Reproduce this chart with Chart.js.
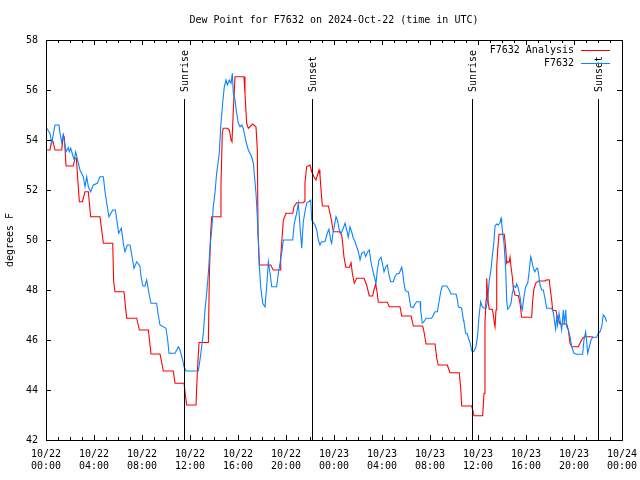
<!DOCTYPE html>
<html>
<head>
<meta charset="utf-8">
<script src="https://cdn.jsdelivr.net/npm/chart.js@4.4.1/dist/chart.umd.min.js"></script>
<style>
  html, body { margin: 0; padding: 0; background: #fff; }
</style>
</head>
<body>
<canvas id="dew" width="640" height="480"></canvas>
<script>
const MONO = '"DejaVu Sans Mono", "Liberation Mono", monospace';

const chartTitle = 'Dew Point for F7632 on 2024-Oct-22 (time in UTC)';
const yTitle = 'degrees F';

// x axis is hours since 10/22 00:00 UTC
const tickDates = ['10/22', '10/22', '10/22', '10/22', '10/22', '10/22',
  '10/23', '10/23', '10/23', '10/23', '10/23', '10/23', '10/24'];
const tickTimes = ['00:00', '04:00', '08:00', '12:00', '16:00', '20:00',
  '00:00', '04:00', '08:00', '12:00', '16:00', '20:00', '00:00'];

const sunriseHours = [11.53, 35.47];
const sunsetHours = [22.14, 46.03];

// F7632 Analysis (red)
const analysisHours = [
  0.06, 0.33, 0.48, 0.58, 0.75, 1.31, 1.44, 1.53, 1.67, 2.27,
  2.42, 2.53, 2.64, 2.78, 3.03, 3.25, 3.53, 3.72, 4.5, 4.78,
  5.56, 5.64, 5.75, 6.5, 6.72, 7.56, 7.78, 8.53, 8.75, 9.5,
  9.78, 10.61, 10.75, 11.5, 11.72, 12.5, 12.61, 12.75, 13.53, 13.61,
  13.72, 13.81, 14.5, 14.58, 14.69, 14.77, 15.11, 15.28, 15.42, 15.5,
  15.61, 15.75, 16.5, 16.58, 16.72, 16.86, 17.0, 17.22, 17.5, 17.61,
  17.67, 17.78, 18.72, 18.94, 19.5, 19.56, 19.64, 19.78, 20.0, 20.56,
  20.67, 20.89, 21.44, 21.5, 21.58, 21.72, 22.0, 22.14, 22.33, 22.5,
  22.75, 22.83, 22.92, 23.03, 23.53, 23.67, 23.81, 23.94, 24.44, 24.64,
  24.72, 24.83, 24.98, 25.28, 25.42, 25.53, 25.69, 25.89, 26.5, 26.72,
  26.94, 27.22, 27.33, 27.47, 27.61, 27.69, 28.44, 28.61, 29.5, 29.64,
  30.42, 30.61, 31.39, 31.5, 31.67, 32.42, 32.56, 32.69, 33.44, 33.67,
  34.44, 34.56, 34.64, 35.47, 35.56, 35.67, 36.39, 36.5, 36.58, 36.67,
  36.72, 36.78, 36.86, 36.94, 37.19, 37.28, 37.36, 37.42, 37.5, 37.56,
  37.64, 37.75, 38.19, 38.31, 38.39, 38.47, 38.58, 38.67, 38.75, 38.86,
  38.94, 39.08, 39.36, 39.5, 39.64, 40.47, 40.56, 40.67, 40.83, 41.03,
  41.58, 41.67, 41.94, 42.0, 42.14, 42.22, 42.5, 42.61, 42.72, 42.83,
  43.39, 43.53, 43.67, 43.81, 44.36, 44.56, 44.72, 44.86, 45.47, 45.61
];
const analysisDew = [
  53.6, 53.6, 54.0, 53.95, 53.6, 53.6, 54.2, 54.1, 52.96, 52.96,
  53.27, 53.27, 52.47, 51.53, 51.53, 51.93, 51.93, 50.93, 50.93, 49.87,
  49.87, 48.33, 47.93, 47.93, 46.87, 46.87, 46.4, 46.4, 45.44, 45.44,
  44.76, 44.76, 44.27, 44.27, 43.4, 43.4, 44.67, 45.9, 45.9, 48.53,
  50.27, 50.93, 50.93, 52.13, 54.27, 54.47, 54.47, 54.4, 54.0, 53.93,
  55.2, 56.53, 56.53, 55.87, 54.67, 54.47, 54.53, 54.64, 54.53, 53.6,
  50.27, 49.0, 49.0, 48.8, 48.8, 49.33, 49.87, 50.8, 51.07, 51.07,
  51.33, 51.49, 51.49, 51.53, 52.27, 52.93, 53.0, 52.73, 52.53, 52.4,
  52.8, 52.6, 52.0, 51.36, 51.36, 51.07, 50.73, 50.33, 50.33, 50.2,
  49.87, 49.33, 48.91, 48.91, 49.09, 48.67, 48.27, 48.47, 48.47, 48.2,
  47.76, 47.76, 48.0, 48.24, 47.87, 47.51, 47.51, 47.33, 47.33, 46.96,
  46.96, 46.56, 46.56, 46.33, 45.84, 45.84, 45.27, 45.0, 45.0, 44.69,
  44.69, 44.07, 43.36, 43.36, 43.2, 42.97, 42.97, 43.87, 46.67, 47.6,
  48.47, 48.0, 47.47, 47.23, 47.23, 47.0, 46.67, 46.53, 47.2, 48.93,
  49.6, 50.23, 50.23, 49.67, 49.07, 49.13, 49.1, 49.31, 48.93, 48.53,
  48.07, 47.8, 47.77, 47.47, 46.91, 46.91, 47.6, 48.07, 48.29, 48.36,
  48.36, 48.4, 48.41, 48.13, 47.6, 47.2, 47.17, 46.93, 46.8, 46.64,
  46.64, 46.4, 45.87, 45.73, 45.73, 45.93, 46.07, 46.13, 46.13, 46.11
];

// F7632 station obs (blue)
const stationHours = [
  0.06, 0.33, 0.48, 0.75, 1.08, 1.17, 1.31, 1.44, 1.67, 1.86,
  1.94, 2.06, 2.22, 2.36, 2.47, 2.83, 3.11, 3.25, 3.39, 3.53,
  3.72, 3.94, 4.28, 4.5, 4.78, 4.92, 5.06, 5.25, 5.56, 5.78,
  5.94, 6.06, 6.28, 6.44, 6.58, 6.78, 7.0, 7.22, 7.33, 7.56,
  7.83, 7.92, 8.08, 8.25, 8.39, 8.58, 8.75, 9.22, 9.33, 9.5,
  10.0, 10.14, 10.25, 10.75, 11.03, 11.17, 11.39, 11.5, 11.67, 12.69,
  12.83, 12.97, 13.11, 13.25, 13.39, 13.53, 13.67, 13.81, 13.94, 14.08,
  14.22, 14.44, 14.56, 14.72, 14.86, 15.0, 15.11, 15.28, 15.42, 15.53,
  15.61, 15.75, 15.89, 16.03, 16.17, 16.31, 16.44, 16.67, 16.86, 17.14,
  17.28, 17.5, 17.61, 17.72, 17.78, 17.89, 18.06, 18.25, 18.39, 18.53,
  18.67, 18.81, 19.22, 19.36, 19.5, 19.64, 19.78, 20.56, 20.69, 20.89,
  21.03, 21.17, 21.31, 21.44, 21.58, 21.72, 22.06, 22.14, 22.42, 22.56,
  22.69, 22.83, 22.97, 23.25, 23.44, 23.58, 23.72, 23.81, 23.89, 24.03,
  24.17, 24.28, 24.44, 24.58, 24.72, 24.92, 25.06, 25.19, 25.33, 25.47,
  25.61, 25.75, 25.89, 26.03, 26.17, 26.31, 26.5, 26.64, 26.81, 26.94,
  27.08, 27.22, 27.36, 27.5, 27.61, 27.75, 27.92, 28.03, 28.17, 28.31,
  28.44, 28.58, 28.72, 28.94, 29.08, 29.22, 29.44, 29.64, 29.72, 29.83,
  29.94, 30.06, 30.19, 30.28, 30.39, 30.61, 30.75, 30.89, 31.17, 31.22,
  31.36, 31.5, 31.67, 32.14, 32.28, 32.42, 32.61, 32.78, 32.89, 33.03,
  33.39, 33.61, 33.75, 34.17, 34.28, 34.36, 34.64, 34.78, 34.83, 34.97,
  35.11, 35.19, 35.33, 35.47, 35.53, 35.67, 35.83, 35.97, 36.08, 36.22,
  36.33, 36.5, 36.67, 36.81, 36.94, 37.08, 37.22, 37.33, 37.42, 37.56,
  37.69, 37.83, 37.92, 37.97, 38.06, 38.17, 38.31, 38.39, 38.47, 38.61,
  38.75, 38.86, 39.0, 39.14, 39.22, 39.36, 39.5, 39.64, 39.69, 39.83,
  39.97, 40.14, 40.25, 40.39, 40.47, 40.61, 40.75, 40.89, 40.97, 41.06,
  41.17, 41.31, 41.44, 41.58, 41.72, 42.14, 42.28, 42.36, 42.47, 42.56,
  42.64, 42.75, 42.89, 42.97, 43.11, 43.19, 43.31, 43.39, 43.53, 43.67,
  43.81, 44.0, 44.22, 44.72, 44.83, 44.97, 45.06, 45.14, 45.28, 45.42,
  45.56, 45.89, 46.03, 46.17, 46.31, 46.44, 46.58, 46.72
];
const stationDew = [
  54.47, 54.27, 53.87, 54.6, 54.6, 54.27, 53.9, 54.2, 53.53, 53.7,
  53.53, 53.67, 53.4, 53.2, 53.53, 52.8, 52.53, 52.13, 52.53, 52.13,
  51.93, 52.2, 52.27, 52.53, 52.53, 51.93, 51.47, 50.93, 51.2, 51.2,
  50.67, 50.27, 50.47, 49.87, 49.53, 49.8, 49.8, 49.2, 48.87, 49.13,
  48.95, 48.53, 48.16, 48.16, 48.4, 47.87, 47.47, 47.47, 47.07, 46.6,
  46.47, 46.0, 45.47, 45.47, 45.73, 45.6, 45.2, 44.93, 44.76, 44.76,
  45.2, 45.73, 46.27, 47.2, 47.87, 48.67, 49.73, 50.4, 51.33, 51.87,
  52.67, 53.47, 54.53, 55.47, 56.13, 56.4, 56.2, 56.4, 56.27, 56.67,
  55.87, 55.6, 55.07, 54.67, 54.53, 54.6, 54.47, 53.93, 53.6, 53.33,
  53.07, 51.87, 50.93, 49.73, 48.93, 48.13, 47.47, 47.33, 48.13, 49.13,
  48.67, 48.13, 48.13, 48.67, 49.07, 49.47, 50.0, 50.0, 50.67, 51.07,
  51.47, 50.53, 49.67, 50.73, 51.13, 51.47, 51.6, 50.8, 50.6, 50.4,
  50.0, 49.8, 49.93, 49.93, 50.27, 50.43, 50.0, 49.87, 50.2, 50.56,
  50.93, 50.8, 50.4, 50.27, 50.4, 50.67, 50.4, 50.11, 50.53, 50.33,
  50.07, 49.93, 49.73, 49.53, 49.2, 49.47, 49.53, 49.33, 49.53, 49.6,
  49.13, 48.8, 48.53, 48.27, 48.8, 49.2, 49.31, 49.07, 48.73, 48.93,
  49.0, 48.6, 48.33, 48.33, 48.53, 48.64, 48.67, 48.91, 48.73, 48.27,
  48.0, 47.93, 47.93, 47.67, 47.33, 47.3, 47.44, 47.53, 47.53, 47.2,
  46.67, 46.73, 46.87, 46.87, 47.0, 47.13, 47.13, 47.6, 47.93, 48.16,
  48.16, 48.0, 47.84, 47.84, 47.63, 47.33, 47.27, 46.8, 46.73, 46.27,
  46.24, 46.1, 45.9, 45.6, 45.53, 45.56, 45.73, 46.2, 46.93, 47.53,
  47.35, 47.27, 47.27, 47.6, 48.4, 48.8, 49.49, 49.93, 50.56, 50.64,
  50.6, 50.69, 50.87, 50.67, 50.27, 49.87, 48.8, 47.6, 47.23, 47.31,
  47.47, 47.87, 48.16, 48.1, 48.24, 48.07, 47.73, 47.27, 47.2, 47.73,
  48.13, 48.27, 48.67, 49.33, 49.2, 48.87, 48.73, 48.87, 48.87, 48.6,
  48.2, 48.0, 48.0, 47.67, 47.27, 47.27, 47.09, 46.8, 46.43, 46.93,
  46.6, 47.07, 46.64, 46.4, 47.2, 46.6, 47.2, 46.53, 46.4, 46.13,
  45.73, 45.47, 45.43, 45.43, 46.0, 46.33, 45.93, 45.47, 45.73, 46.0,
  46.11, 46.11, 46.27, 46.33, 46.53, 47.0, 46.93, 46.73
];

function pairs(xs, ys) {
  return xs.map((x, i) => ({ x: x, y: ys[i] }));
}

function crisp(v) {
  return Math.round(v) + 0.5;
}

// gnuplot-style frame, ticks, sun markers, legend and labels
const gnuplotLook = {
  id: 'gnuplotLook',
  afterDatasetsDraw(chart) {
    const { ctx, chartArea: a, scales: { x, y } } = chart;
    ctx.save();
    ctx.strokeStyle = '#000';
    ctx.fillStyle = '#000';
    ctx.lineWidth = 1;

    // sunrise / sunset lines
    const events = sunriseHours.map(h => [h, 'Sunrise'])
      .concat(sunsetHours.map(h => [h, 'Sunset']));
    ctx.font = '10px ' + MONO;
    events.forEach(([h, name]) => {
      const px = crisp(x.getPixelForValue(h));
      ctx.beginPath();
      ctx.moveTo(px, a.top + 59);
      ctx.lineTo(px, a.bottom);
      ctx.stroke();
      ctx.save();
      ctx.translate(px + 1, a.top + 52);
      ctx.rotate(-Math.PI / 2);
      ctx.textAlign = 'left';
      ctx.textBaseline = 'middle';
      ctx.fillText(name, 0, 0);
      ctx.restore();
    });

    // border
    ctx.strokeRect(crisp(a.left), crisp(a.top),
      Math.round(a.right) - Math.round(a.left), Math.round(a.bottom) - Math.round(a.top));

    // x ticks: major every 4 h, minor every hour
    ctx.beginPath();
    for (let h = x.min; h <= x.max; h += 1) {
      const px = crisp(x.getPixelForValue(h));
      const len = h % 4 === 0 ? 5 : 3;
      ctx.moveTo(px, a.bottom);
      ctx.lineTo(px, a.bottom - len);
      ctx.moveTo(px, a.top);
      ctx.lineTo(px, a.top + len);
    }
    // y ticks
    for (let v = y.min; v <= y.max; v += 2) {
      const py = crisp(y.getPixelForValue(v));
      ctx.moveTo(a.left, py);
      ctx.lineTo(a.left + 5, py);
      ctx.moveTo(a.right, py);
      ctx.lineTo(a.right - 5, py);
    }
    ctx.stroke();

    // legend
    ctx.textAlign = 'right';
    ctx.textBaseline = 'middle';
    chart.data.datasets.forEach((ds, i) => {
      const ly = a.top + 10 + i * 13;
      ctx.fillStyle = '#000';
      ctx.fillText(ds.label, a.right - 48, ly);
      ctx.strokeStyle = ds.borderColor;
      ctx.beginPath();
      ctx.moveTo(a.right - 41, crisp(ly));
      ctx.lineTo(a.right - 12, crisp(ly));
      ctx.stroke();
    });

    // title
    ctx.fillStyle = '#000';
    ctx.textAlign = 'center';
    ctx.fillText(chartTitle, (a.left + a.right) / 2, 20);

    // y axis title
    ctx.save();
    ctx.translate(10, (a.top + a.bottom) / 2);
    ctx.rotate(-Math.PI / 2);
    ctx.textAlign = 'center';
    ctx.textBaseline = 'middle';
    ctx.fillText(yTitle, 0, 0);
    ctx.restore();

    ctx.restore();
  }
};

const ctx = document.getElementById('dew').getContext('2d');
new Chart(ctx, {
  type: 'line',
  data: {
    datasets: [
      {
        label: 'F7632 Analysis',
        data: pairs(analysisHours, analysisDew),
        borderColor: '#ff0000',
        borderWidth: 1.1,
        pointRadius: 0,
        tension: 0,
        order: 2,
      },
      {
        label: 'F7632',
        data: pairs(stationHours, stationDew),
        borderColor: '#0a84ff',
        borderWidth: 1.1,
        pointRadius: 0,
        tension: 0,
        order: 1,
      },
    ],
  },
  options: {
    responsive: false,
    animation: false,
    layout: { padding: { top: 40, right: 18, bottom: 0, left: 0 } },
    plugins: {
      legend: { display: false },
      title: { display: false },
      tooltip: { enabled: false },
    },
    scales: {
      x: {
        type: 'linear',
        min: 0,
        max: 48,
        afterFit: s => { s.height = 40; },
        // tick marks are drawn by the plugin; tickLength only spaces the labels
        grid: { display: false, drawTicks: true, tickLength: 8 },
        border: { display: false },
        ticks: {
          stepSize: 4,
          autoSkip: false,
          maxRotation: 0,
          padding: 0,
          color: '#000',
          font: { family: MONO, size: 10 },
          callback: (v, i) => [tickDates[i], tickTimes[i]],
        },
      },
      y: {
        min: 42,
        max: 58,
        afterFit: s => { s.width = 46; },
        grid: { display: false, drawTicks: false },
        border: { display: false },
        ticks: {
          stepSize: 2,
          padding: 8,
          color: '#000',
          font: { family: MONO, size: 10 },
        },
      },
    },
  },
  plugins: [gnuplotLook],
});
</script>
</body>
</html>
